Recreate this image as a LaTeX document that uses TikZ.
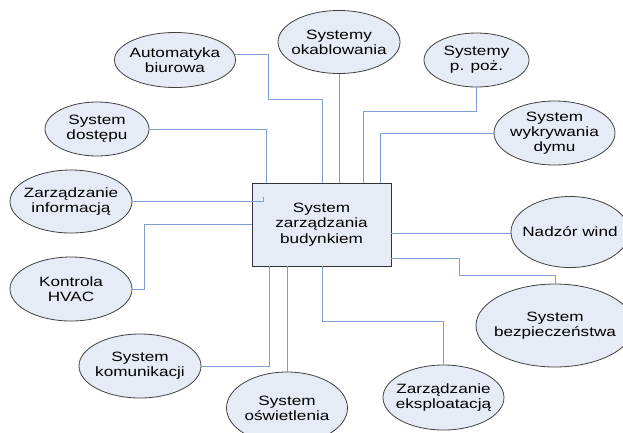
\documentclass[tikz,border=0pt]{standalone}
\usepackage{fontspec}
\setmainfont{Liberation Sans}[FakeStretch=1.27]
\usetikzlibrary{shapes.geometric}
\definecolor{fillc}{HTML}{E6ECF6}
\definecolor{edgec}{HTML}{404040}
\definecolor{connc}{HTML}{7F9FD4}
\tikzset{
  elli/.style={ellipse, draw=edgec, line width=0.8pt, fill=fillc, inner sep=0pt},
  etext/.style={align=center, inner sep=0pt, font=\fontsize{13.5}{14.8}\selectfont},
  mainbox/.style={rectangle, draw=black!80, line width=0.9pt, fill=fillc, inner sep=0pt, align=center,
    minimum width=139pt, minimum height=83pt, font=\fontsize{13.5}{15.2}\selectfont},
  conn/.style={draw=connc, line width=0.8pt},
}
\newcommand{\myell}[6]{% name, x, y, w, h, text
  \node[elli, minimum width=#4pt, minimum height=#5pt] (#1) at (#2,#3) {};
  \node[etext] (#1-t) at (#1.center) {#6};
}
\begin{document}
\begin{tikzpicture}[x=1pt,y=-1pt]
\useasboundingbox (0,0) rectangle (623,432);
\clip (0,0) rectangle (623,432);
\node[mainbox] (box) at (321.5,224.5) {System\\zarządzania\\budynkiem};
\myell{auto}{175}{60}{121}{55}{Automatyka\\biurowa}
\myell{okabl}{339}{42}{122}{63}{Systemy\\okablowania}
\myell{ppoz}{476.5}{60}{105}{54}{Systemy\\p. poż.}
\myell{dym}{554.5}{133}{121}{64}{System\\wykrywania\\dymu}
\myell{dost}{97}{129}{104}{54}{System\\dostępu}
\myell{info}{71}{201.5}{122}{63}{Zarządzanie\\informacją}
\myell{hvac}{71}{289}{122}{64}{Kontrola\\HVAC}
\myell{komun}{140}{366}{122}{64}{System\\komunikacji}
\myell{osw}{287}{408}{121}{72}{System\\oświetlenia}
\myell{wind}{570}{232}{118}{71}{Nadzór wind}
\myell{bezp}{555}{325.5}{158}{83}{System\\bezpieczeństwa}
\myell{eksp}{443.5}{397.5}{121}{65}{Zarządzanie\\eksploatacją}
\coordinate (infoend) at ([xshift=-58.5pt,yshift=22.5pt]box.center);
% connectors
\draw[conn] (auto.5) -| ++(34,45) -| ([xshift=0.5pt]box.north);
\draw[conn] (okabl.south) -- (okabl.south |- box.north);
\draw[conn] (ppoz.south) -- ++(0,24) -| ([xshift=41.5pt]box.north);
\draw[conn] (dym.west) -| ([xshift=58.5pt]box.north);
\draw[conn] (dost.east) -| ([xshift=-55.5pt]box.north);
\draw[conn] (info.east) -- (info.east -| infoend) -- ++(0,-5);
\draw[conn] (hvac.east) -- ++(12,0) |- (box.west);
\draw[conn] (komun.east) -| ([xshift=-52.5pt]box.south);
\draw[conn] (osw.north) -- (osw.north |- box.south);
\draw[conn] ([yshift=-8.5pt]box.east) -- ([yshift=-8.5pt]box.east -| wind.west);
\draw[conn] ([yshift=-33.5pt]box.east) -| ++(68,17) -| (bezp.north);
\draw[conn] ([xshift=0.5pt]box.south) -- ++(0,55) -| (eksp.north);
\end{tikzpicture}
\end{document}
